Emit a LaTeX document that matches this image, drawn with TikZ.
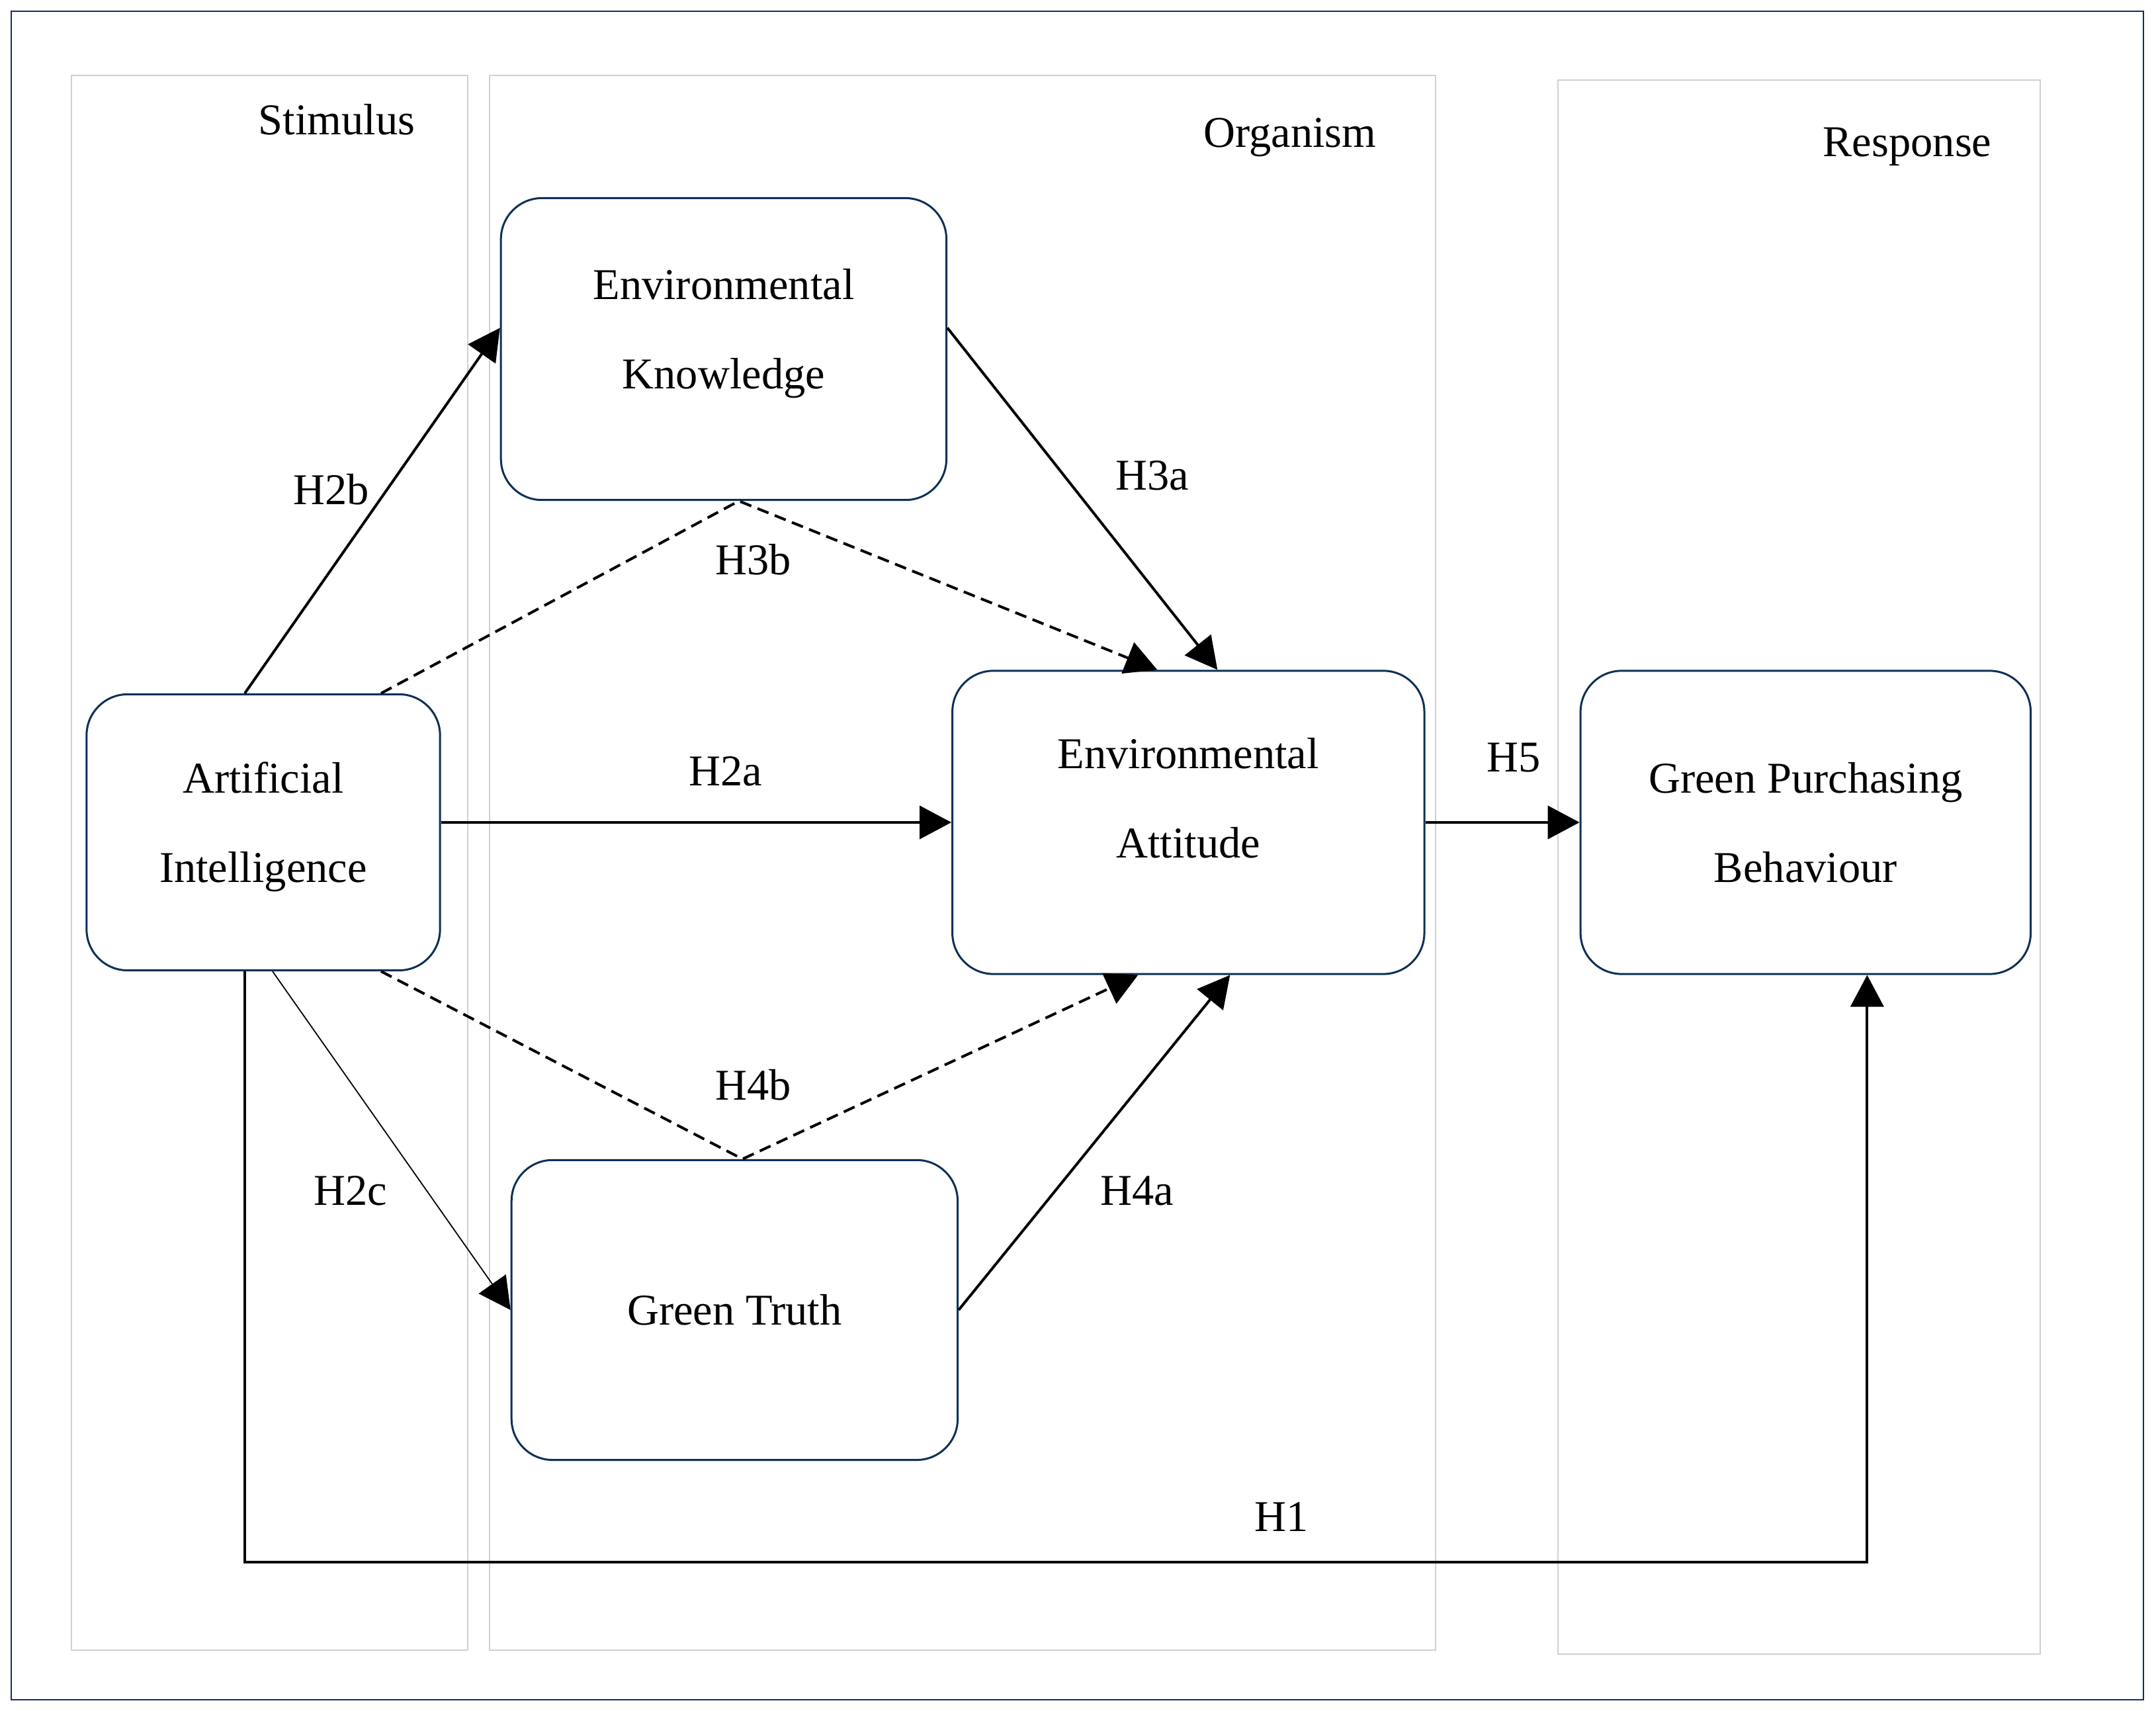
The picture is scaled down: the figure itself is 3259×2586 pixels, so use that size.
\documentclass[tikz,border=0pt]{standalone}
\usepackage{fontspec}
\setmainfont{Liberation Serif}
\usepackage{tikz}
\usetikzlibrary{arrows.meta, positioning, calc}
\definecolor{boxline}{RGB}{14,48,86}
\definecolor{framegray}{RGB}{208,208,208}
\newcommand{\raiseby}[1]{\rule[-#1]{0pt}{0pt}}

\begin{document}
\begin{tikzpicture}[
  x=0.01cm, y=-0.01cm,
  every node/.style={font=\fontsize{18.9}{38.4}\selectfont},
  box/.style={draw=boxline, line width=0.03cm, rounded corners=0.62cm, align=center,
              minimum height=4.58cm, inner sep=2pt},
  lbl/.style={inner sep=1pt},
  frame/.style={draw=framegray, line width=0.027cm},
  arr/.style={-{Triangle[length=0.48cm, width=0.5cm]}, line width=0.04cm},
  dasharr/.style={arr, dash pattern=on 0.18cm off 0.1cm}]
\useasboundingbox (0,0) rectangle (3259,2586);
\draw[boxline, line width=0.02cm] (17,17) rectangle (3240,2569);
% S-O-R columns
\draw[frame] (108,114) rectangle (707,2494);
\draw[frame] (740,114) rectangle (2170,2494);
\draw[frame] (2355,121) rectangle (3084,2500);
\node[lbl] (stim) at (509,181) {Stimulus};
\node[lbl] (org) at (1950,208) {Organism};
\node[lbl] (resp) at (2883,222) {Response};
% constructs
\node[box, minimum width=5.34cm, minimum height=4.17cm] (ai) at (398,1258) {Artificial\\Intelligence\raiseby{0.3cm}};
\node[box, minimum width=7.13cm, right=7.71cm of ai, yshift=0.15cm] (ea) {Environmental\\Attitude\raiseby{0.75cm}};
\node[box, minimum width=6.80cm, right=2.33cm of ea] (gpb) {Green Purchasing\\Behaviour};
\node[box, minimum width=6.73cm, minimum height=4.56cm, above left=2.55cm and 0.06cm of ea] (ek) {Environmental\\Knowledge\raiseby{0.62cm}};
\node[box, minimum width=6.74cm, minimum height=4.53cm, below left=2.78cm and -0.11cm of ea] (gt) {Green Truth};
% paths
\draw[arr] ($(ai.north)+(-28,0)$) -- ($(ek.west)+(0,-32)$);
\draw[arr] (ai.east |- ea.west) -- (ea.west);
\draw[arr, line width=0.018cm] ($(ai.south)+(14,0)$) -- (gt.west);
\draw[arr] ($(ek.east)+(0,-32)$) -- ($(ea.north)+(44,0)$);
\draw[dasharr] ($(ai.north)+(178,0)$) -- ($(ek.south)+(23,0)$) -- ($(ea.north)+(-47,0)$);
\draw[arr] (gt.east) -- ($(ea.south)+(63,0)$);
\draw[dasharr] ($(ai.south)+(178,0)$) -- ($(gt.north)+(12,0)$) -- ($(ea.south)+(-76,0)$);
\draw[arr] (ea.east) -- (gpb.west);
\draw[arr] ($(ai.south)+(-28,0)$) -- ++(0,893) -| ($(gpb.south)+(93,0)$);
% hypotheses
\node[lbl] (h2b) at (501,740) {H2b};
\node[lbl] (h3b) at (1139,846) {H3b};
\node[lbl] (h3a) at (1742,719) {H3a};
\node[lbl] (h2a) at (1097,1166) {H2a};
\node[lbl] (h5) at (2288,1145) {H5};
\node[lbl] (h4b) at (1139,1640) {H4b};
\node[lbl] (h4a) at (1719,1800) {H4a};
\node[lbl] (h2c) at (530,1800) {H2c};
\node[lbl] (h1) at (1937,2293) {H1};
\end{tikzpicture}
\end{document}
